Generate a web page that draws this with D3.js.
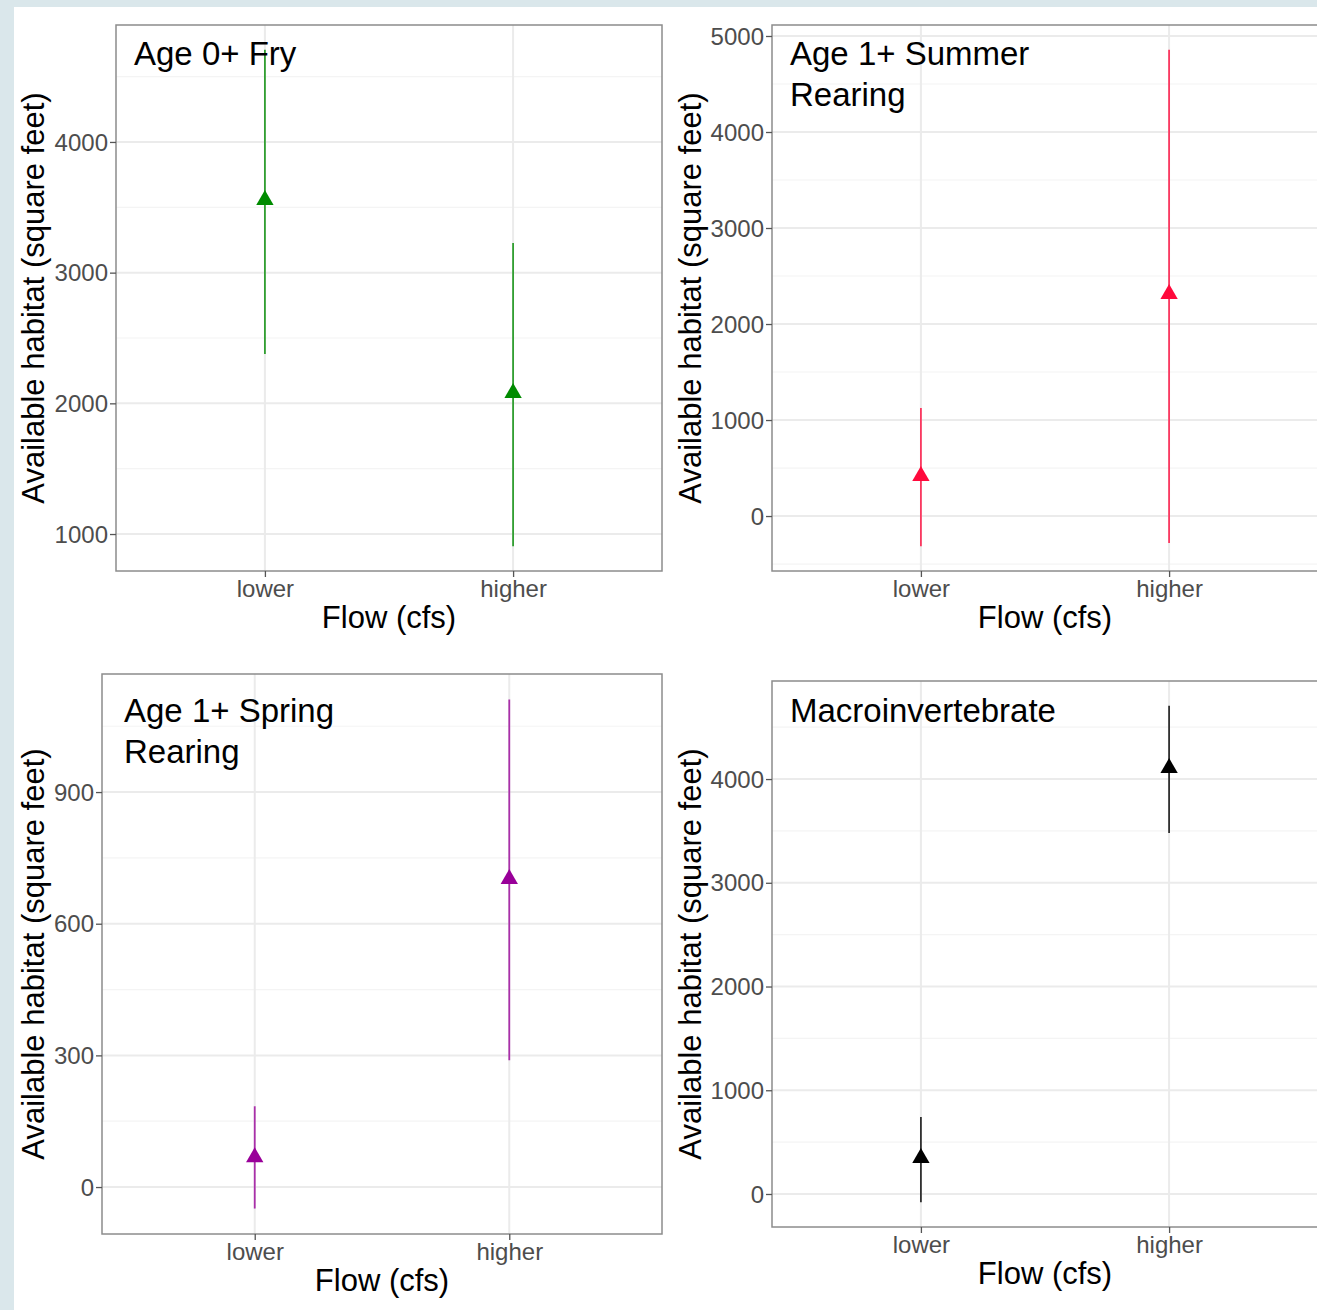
<!DOCTYPE html>
<html>
<head>
<meta charset="utf-8">
<script src="https://cdn.jsdelivr.net/npm/d3@7"></script>
<style>
  html, body { margin: 0; padding: 0; background: #dae7eb; }
  svg { display: block; }
</style>
</head>
<body>
<svg id="chart"></svg>
<script>
// values
var flowLevels = ["lower", "higher"];

var panelTitles = [
    ["Age 0+ Fry"],
    ["Age 1+ Summer", "Rearing"],
    ["Age 1+ Spring", "Rearing"],
    ["Macroinvertebrate"]
];

var fryMean = [3556, 2080];
var fryLow = [2378, 907];
var fryHigh = [4705, 3227];

var summerMean = [417, 2312];
var summerLow = [-314, -281];
var summerHigh = [1125, 4856];

var springMean = [68, 702];
var springLow = [-49, 289];
var springHigh = [184, 1111];

var macroMean = [347, 4106];
var macroLow = [-79, 3480];
var macroHigh = [742, 4706];

var fryTicks = [1000, 2000, 3000, 4000];
var summerTicks = [0, 1000, 2000, 3000, 4000, 5000];
var springTicks = [0, 300, 600, 900];
var macroTicks = [0, 1000, 2000, 3000, 4000];

var panelColors = ["#008b00", "#ff0a3c", "#990099", "#000000"];

var xTitle = "Flow (cfs)";
var yTitle = "Available habitat (square feet)";

var width = 1317;
var height = 1310;

var svg = d3.select("#chart")
    .attr("width", width)
    .attr("height", height);

// slide background round the white figure
svg.append("rect")
    .attr("x", 14).attr("y", 7)
    .attr("width", width - 14).attr("height", height - 7)
    .attr("fill", "#ffffff");

var panels = [
    { mean: fryMean, low: fryLow, high: fryHigh, ticks: fryTicks, box: [116, 25, 662, 571], titleX: 134, titleY: 65, yTitleX: 44 },
    { mean: summerMean, low: summerLow, high: summerHigh, ticks: summerTicks, box: [772, 25, 1318, 571], titleX: 790, titleY: 65, yTitleX: 701 },
    { mean: springMean, low: springLow, high: springHigh, ticks: springTicks, box: [102, 674, 662, 1234], titleX: 124, titleY: 722, yTitleX: 44 },
    { mean: macroMean, low: macroLow, high: macroHigh, ticks: macroTicks, box: [772, 681, 1318, 1227], titleX: 790, titleY: 722, yTitleX: 701 }
];

var font = "'Liberation Sans', Arial, sans-serif";

panels.forEach(function(p, k) {
    var x0 = p.box[0], y0 = p.box[1], x1 = p.box[2], y1 = p.box[3];
    var color = panelColors[k];

    // ggplot style 5% expansion round the data range
    var lo = d3.min(p.low), hi = d3.max(p.high);
    var pad = (hi - lo) * 0.05;

    var y = d3.scaleLinear()
        .domain([lo - pad, hi + pad])
        .range([y1, y0]);

    var x = d3.scalePoint()
        .domain(flowLevels)
        .range([x0, x1])
        .padding(0.6);

    var g = svg.append("g");

    // minor grid halfway between major ticks
    var step = p.ticks[1] - p.ticks[0];
    var minor = [];
    for (var v = p.ticks[0] - step / 2; v <= hi + pad; v += step) {
        if (v >= lo - pad) minor.push(v);
    }

    g.selectAll("line.minor")
        .data(minor)
        .enter()
        .append("line")
        .attr("x1", x0).attr("x2", x1)
        .attr("y1", function(d) { return y(d); })
        .attr("y2", function(d) { return y(d); })
        .attr("stroke", "#f4f4f4")
        .attr("stroke-width", 1.2);

    g.selectAll("line.major")
        .data(p.ticks)
        .enter()
        .append("line")
        .attr("x1", x0).attr("x2", x1)
        .attr("y1", function(d) { return y(d); })
        .attr("y2", function(d) { return y(d); })
        .attr("stroke", "#ebebeb")
        .attr("stroke-width", 2);

    g.selectAll("line.vgrid")
        .data(flowLevels)
        .enter()
        .append("line")
        .attr("x1", function(d) { return x(d); })
        .attr("x2", function(d) { return x(d); })
        .attr("y1", y0).attr("y2", y1)
        .attr("stroke", "#ebebeb")
        .attr("stroke-width", 2);

    // error bars
    g.selectAll("line.err")
        .data(flowLevels)
        .enter()
        .append("line")
        .attr("x1", function(d) { return x(d); })
        .attr("x2", function(d) { return x(d); })
        .attr("y1", function(d, i) { return y(p.low[i]); })
        .attr("y2", function(d, i) { return y(p.high[i]); })
        .attr("stroke", color)
        .attr("stroke-opacity", 0.8)
        .attr("stroke-width", 1.8);

    // triangles
    g.selectAll("path.pt")
        .data(flowLevels)
        .enter()
        .append("path")
        .attr("d", d3.symbol().type(d3.symbolTriangle).size(130))
        .attr("transform", function(d, i) { return "translate(" + x(d) + "," + y(p.mean[i]) + ")"; })
        .attr("fill", color);

    // panel border
    g.append("rect")
        .attr("x", x0).attr("y", y0)
        .attr("width", x1 - x0).attr("height", y1 - y0)
        .attr("fill", "none")
        .attr("stroke", "#8c8c8c")
        .attr("stroke-width", 1.5);

    // axes
    var yAxis = d3.axisLeft(y)
        .tickValues(p.ticks)
        .tickFormat(d3.format("d"))
        .tickSize(6)
        .tickPadding(2);
    var ya = g.append("g")
        .attr("transform", "translate(" + x0 + ",0)")
        .call(yAxis);

    var xAxis = d3.axisBottom(x)
        .tickSize(6)
        .tickPadding(3);
    var xa = g.append("g")
        .attr("transform", "translate(0," + y1 + ")")
        .call(xAxis);

    [ya, xa].forEach(function(a) {
        a.select(".domain").remove();
        a.selectAll(".tick line").attr("stroke", "#555555").attr("stroke-width", 1.3);
        a.selectAll(".tick text")
            .attr("fill", "#4d4d4d")
            .style("font-family", font)
            .style("font-size", "24px");
    });
    ya.selectAll(".tick text").attr("dy", "0.34em");
    xa.selectAll(".tick text").attr("dy", "0.72em");

    // axis titles
    g.append("text")
        .attr("x", (x0 + x1) / 2)
        .attr("y", y1 + 57)
        .attr("text-anchor", "middle")
        .style("font-family", font)
        .style("font-size", "31px")
        .attr("fill", "#000")
        .text(xTitle);

    g.append("text")
        .attr("transform", "translate(" + p.yTitleX + "," + ((y0 + y1) / 2) + ") rotate(-90)")
        .attr("text-anchor", "middle")
        .style("font-family", font)
        .style("font-size", "31px")
        .attr("fill", "#000")
        .text(yTitle);

    // panel title
    g.selectAll("text.title")
        .data(panelTitles[k])
        .enter()
        .append("text")
        .attr("x", p.titleX)
        .attr("y", function(d, i) { return p.titleY + i * 41; })
        .style("font-family", font)
        .style("font-size", "33px")
        .attr("fill", "#000")
        .text(String);
});
</script>
</body>
</html>
